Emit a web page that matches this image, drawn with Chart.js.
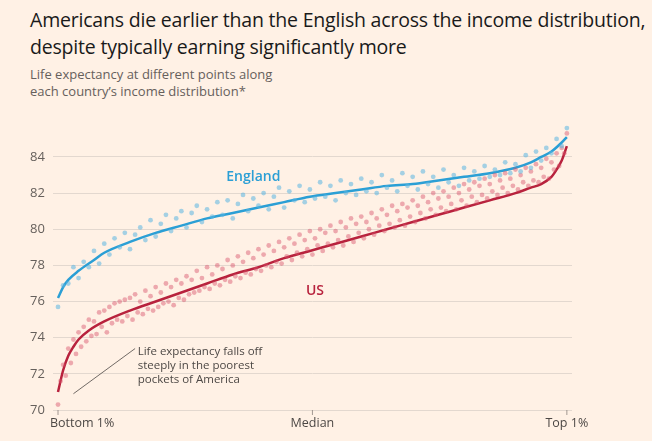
<!DOCTYPE html>
<html><head><meta charset="utf-8">
<script src="https://cdn.jsdelivr.net/npm/chart.js"></script>
<style>
body{margin:0;background:#fff1e5;font-family:"Open Sans",sans-serif;width:652px;height:441px;overflow:hidden}
h1{margin:0;position:absolute;left:30px;top:6px;font-size:19.5px;font-weight:400;line-height:27px;color:#1a1a1a;letter-spacing:-0.2px}
.sub{position:absolute;left:30px;top:66px;font-size:13px;line-height:17px;color:#66605c}
#wrap{position:absolute;left:0;top:105px;width:652px;height:336px}
</style></head><body>
<h1>Americans die earlier than the English across the income distribution,<br>despite typically earning significantly more</h1>
<div class="sub">Life expectancy at different points along<br>each country’s income distribution*</div>
<div id="wrap"><canvas id="c" width="652" height="336"></canvas></div>
<script>
const engY=[75.7,76.9,77.0,77.9,77.3,78.2,77.9,78.8,78.1,79.2,78.6,79.5,79.0,79.8,78.9,79.7,80.1,79.4,80.5,79.6,80.3,80.8,79.9,80.6,81.0,80.1,80.9,81.3,80.4,81.1,80.7,81.5,80.8,81.6,80.6,81.4,81.9,81.0,81.7,81.3,82.0,81.1,81.8,82.3,81.2,82.1,81.6,82.4,81.5,82.2,81.7,82.6,81.8,82.4,81.6,82.7,82.0,82.5,81.9,82.8,82.1,82.6,82.0,83.0,82.3,82.7,82.1,83.1,82.4,82.9,82.2,83.2,82.5,82.9,82.3,83.3,82.6,83.0,82.4,83.4,82.7,83.2,82.8,83.5,82.9,83.3,83.0,83.7,83.1,83.6,83.2,84.1,83.4,84.3,83.8,84.5,84.2,85.0,84.6,85.6];
const usY=[70.3,71.6,72.5,71.9,73.4,72.6,73.9,73.1,74.3,73.5,74.6,73.8,75.0,74.1,74.9,74.2,75.4,74.6,75.5,74.3,75.7,74.8,75.9,75.0,76.0,74.9,76.1,75.2,76.2,75.0,76.4,75.4,76.0,75.3,76.6,75.6,76.3,75.5,76.8,75.7,76.5,75.9,77.0,76.0,76.8,75.8,77.2,76.2,77.0,76.1,77.4,76.4,77.2,76.5,77.7,76.6,77.3,76.8,77.9,76.7,77.5,77.0,78.0,76.9,77.8,77.2,78.3,77.1,78.0,77.4,78.5,77.3,78.2,77.6,78.7,77.5,78.4,77.8,78.9,77.7,78.6,78.0,79.1,77.9,78.8,78.2,79.3,78.1,79.0,78.5,79.5,78.3,79.2,78.7,79.7,78.5,79.4,78.9,79.9,78.6,79.5,79.1,80.0,78.8,79.8,79.2,80.2,79.0,79.9,79.4,80.4,79.1,80.1,79.6,80.6,79.3,80.3,79.8,80.7,79.5,80.4,80.0,80.9,79.7,80.6,80.2,81.1,79.9,80.8,80.3,81.3,80.1,81.0,80.5,81.4,80.2,81.2,80.7,81.6,80.4,81.3,80.9,81.8,80.6,81.5,81.1,82.0,80.8,81.7,81.2,82.1,81.0,81.8,81.4,82.3,81.1,82.0,81.6,82.5,81.3,82.2,81.8,82.6,81.5,82.4,81.9,82.8,81.7,82.5,82.1,83.0,81.9,82.7,82.3,83.1,82.0,82.8,82.4,83.3,82.2,83.0,82.6,83.4,82.4,83.2,82.7,83.6,82.6,83.4,82.9,83.9,82.8,83.7,83.3,84.2,83.5,84.5,84.2,85.3];
const engTrendX=[1,2,3,5,8,10,15,20,25,30,35,40,45,50,55,60,65,70,75,80,85,90,93,95,97,99,100];
const engTrendY=[76.2,76.8,77.2,77.7,78.3,78.7,79.3,79.8,80.2,80.6,80.9,81.2,81.5,81.8,82.0,82.2,82.4,82.5,82.7,82.9,83.1,83.4,83.7,84.0,84.3,84.8,85.1];
const usTrendX=[1,2,3,4,5,7,10,15,20,25,30,35,40,45,50,55,60,65,70,75,80,85,90,93,95,97,98,99,100];
const usTrendY=[71.0,72.2,73.0,73.5,73.9,74.4,74.9,75.5,76.0,76.5,77.0,77.5,77.9,78.4,78.8,79.2,79.6,80.0,80.4,80.8,81.2,81.6,82.0,82.3,82.5,82.9,83.3,83.8,84.6];
const yTicks=[70,72,74,76,78,80,82,84];
const xLabels=[[1,'Bottom 1%','left'],[50.5,'Median','center'],[100,'Top 1%','center']];

const blue='#2b9fd5',red='#b8223d';
const anno={id:'anno',afterDatasetsDraw(ch){
  const c=ch.ctx,x=ch.scales.x,y=ch.scales.y;
  c.save();
  c.font='600 14px "Open Sans"';c.textAlign='center';c.textBaseline='middle';
  c.fillStyle=blue;c.fillText('England',x.getPixelForValue(39),y.getPixelForValue(82.9));
  c.fillStyle=red;c.fillText('US',x.getPixelForValue(51),y.getPixelForValue(76.6));
  c.font='11.5px "Open Sans"';c.fillStyle='#4d4845';c.textAlign='left';
  const tx=x.getPixelForValue(16.5);
  ['Life expectancy falls off','steeply in the poorest','pockets of America'].forEach((t,i)=>c.fillText(t,tx,y.getPixelForValue(73.2)+i*14));
  c.strokeStyle='#4d4845';c.lineWidth=0.8;c.beginPath();
  c.moveTo(x.getPixelForValue(16),y.getPixelForValue(73.4));c.lineTo(x.getPixelForValue(4),y.getPixelForValue(70.9));c.stroke();
  c.font='12.5px "Open Sans"';c.fillStyle='#4d4845';c.textBaseline='top';
  const b=y.getPixelForValue(70);
  xLabels.forEach(([v,t,a])=>{const px=x.getPixelForValue(v);
    c.strokeStyle='#8a827c';c.beginPath();c.moveTo(px,b);c.lineTo(px,b+5);c.stroke();
    c.textAlign=a;c.fillText(t,a==='left'?px-8:px,b+7);});
  c.restore();
}};
new Chart(document.getElementById('c'),{
  type:'scatter',
  data:{datasets:[
    {data:engY.map((v,i)=>({x:i+1,y:v})),backgroundColor:'rgba(90,180,225,0.55)',pointRadius:2.4,borderWidth:0},
    {data:usY.map((v,i)=>({x:1+i*0.5,y:v})),backgroundColor:'rgba(215,80,105,0.45)',pointRadius:2.4,borderWidth:0},
    {type:'line',data:engTrendX.map((v,i)=>({x:v,y:engTrendY[i]})),borderColor:blue,borderWidth:2.5,pointRadius:0,cubicInterpolationMode:'monotone',fill:false},
    {type:'line',data:usTrendX.map((v,i)=>({x:v,y:usTrendY[i]})),borderColor:red,borderWidth:2.5,pointRadius:0,cubicInterpolationMode:'monotone',fill:false}
  ]},
  options:{responsive:false,animation:false,
    layout:{padding:{top:8,right:80,bottom:31,left:22}},
    plugins:{legend:{display:false},tooltip:{enabled:false}},
    scales:{
      x:{type:'linear',min:0,max:101,display:false},
      y:{min:70,max:86,afterBuildTicks:a=>{a.ticks=yTicks.map(v=>({value:v}))},
         border:{display:false},grid:{color:'#e3d8cf',drawTicks:false},
         ticks:{color:'#66605c',font:{size:13,family:'"Open Sans"'},padding:8}}
    }
  },
  plugins:[anno]
});
</script></body></html>
